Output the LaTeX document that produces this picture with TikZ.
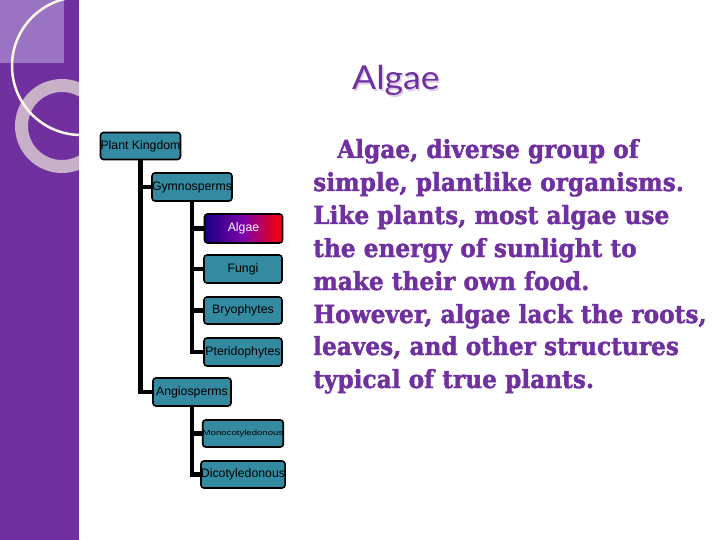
\documentclass[tikz,border=0pt]{standalone}
\usepackage{fontspec}
\setmainfont{Liberation Sans}
\newfontfamily\titlefont[FakeStretch=1.08]{Lato}
\newfontfamily\bodyfont[FakeStretch=0.93,FakeBold=1.6]{DejaVu Serif Bold}
\usetikzlibrary{shadings}
\definecolor{band}{RGB}{112,48,160}
\definecolor{lightsq}{RGB}{155,115,195}
\definecolor{ringc}{RGB}{200,176,200}
\definecolor{creamc}{RGB}{255,246,230}
\definecolor{tealc}{RGB}{52,138,160}
\definecolor{txtpurple}{RGB}{112,48,160}
\definecolor{shadowc}{RGB}{220,205,232}
\tikzset{
  box/.style={draw=black, line width=1.6pt, fill=tealc, rounded corners=3pt,
    minimum width=78pt, minimum height=27pt, inner sep=0pt,
    font=\fontsize{12.3}{14}\selectfont, text=black},
  link/.style={line width=4.5pt, black},
  bodyline/.style={anchor=base west, inner sep=0pt, text=txtpurple,
    font=\bodyfont\fontsize{25}{28}\selectfont}
}
\begin{document}
\begin{tikzpicture}[x=1pt,y=-1pt]
\useasboundingbox (0,0) rectangle (720,540);
\fill[white] (0,0) rectangle (720,540);
% left band
\begin{scope}
\clip (0,0) rectangle (79,540);
\fill[band] (0,0) rectangle (79,540);
\fill[lightsq] (0,0) rectangle (64,63);
\draw[ringc, line width=13pt] (62,126) circle[radius=40.5];
\draw[creamc, line width=2.5pt] (81,66) circle[radius=69];
\end{scope}
% title
\node[text=shadowc, font=\titlefont\fontsize{33}{36}\selectfont, anchor=base, inner sep=0pt] at (397.5,91.5) {Algae};
\node (title) [text=txtpurple, font=\titlefont\fontsize{33}{36}\selectfont, anchor=base, inner sep=0pt] at (396,90) {Algae};
% body text
\node (l1) [bodyline] at (337,158) {Algae, diverse group of};
\node (l2) [bodyline] at (313,191) {simple, plantlike organisms.};
\node (l3) [bodyline] at (313,224) {Like plants, most algae use};
\node (l4) [bodyline] at (313,257) {the energy of sunlight to};
\node (l5) [bodyline] at (313,290) {make their own food.};
\node (l6) [bodyline] at (313,323) {However, algae lack the roots,};
\node (l7) [bodyline] at (313,355) {leaves, and other structures};
\node (l8) [bodyline] at (313,388) {typical of true plants.};
% tree nodes
\node (pk) [box, minimum width=77pt] at (140.5,146) {Plant Kingdom};
\node (gym) [box, minimum height=28pt] at (192,187) {Gymnosperms};
\node (alg) [box, minimum height=29pt, left color={rgb,255:red,25;green,0;blue,130}, right color=red, middle color={rgb,255:red,125;green,0;blue,170}, text=white] at (243.5,228.5) {Algae};
\node (fun) [box, minimum height=28pt] at (243,269) {Fungi};
\node (bry) [box] at (243,310.5) {Bryophytes};
\node (pte) [box, minimum height=28pt] at (243,352) {Pteridophytes};
\node (ang) [box, minimum height=28pt] at (192,392) {Angiosperms};
\node (mono) [box] at (243,433.5) {\scalebox{1.28}[1]{\fontsize{7.5}{9}\selectfont Monocotyledonous}};
\node (dico) [box] at (243,474.5) {Dicotyledonous};
% connectors
\draw[link] (pk.south) |- (ang.west);
\draw[link] (pk.south |- gym.west) -- (gym.west);
\draw[link] (gym.south) |- (pte.west);
\draw[link] (gym.south |- alg.west) -- (alg.west);
\draw[link] (gym.south |- fun.west) -- (fun.west);
\draw[link] (gym.south |- bry.west) -- (bry.west);
\draw[link] (ang.south) |- (dico.west);
\draw[link] (ang.south |- mono.west) -- (mono.west);
\end{tikzpicture}
\end{document}
